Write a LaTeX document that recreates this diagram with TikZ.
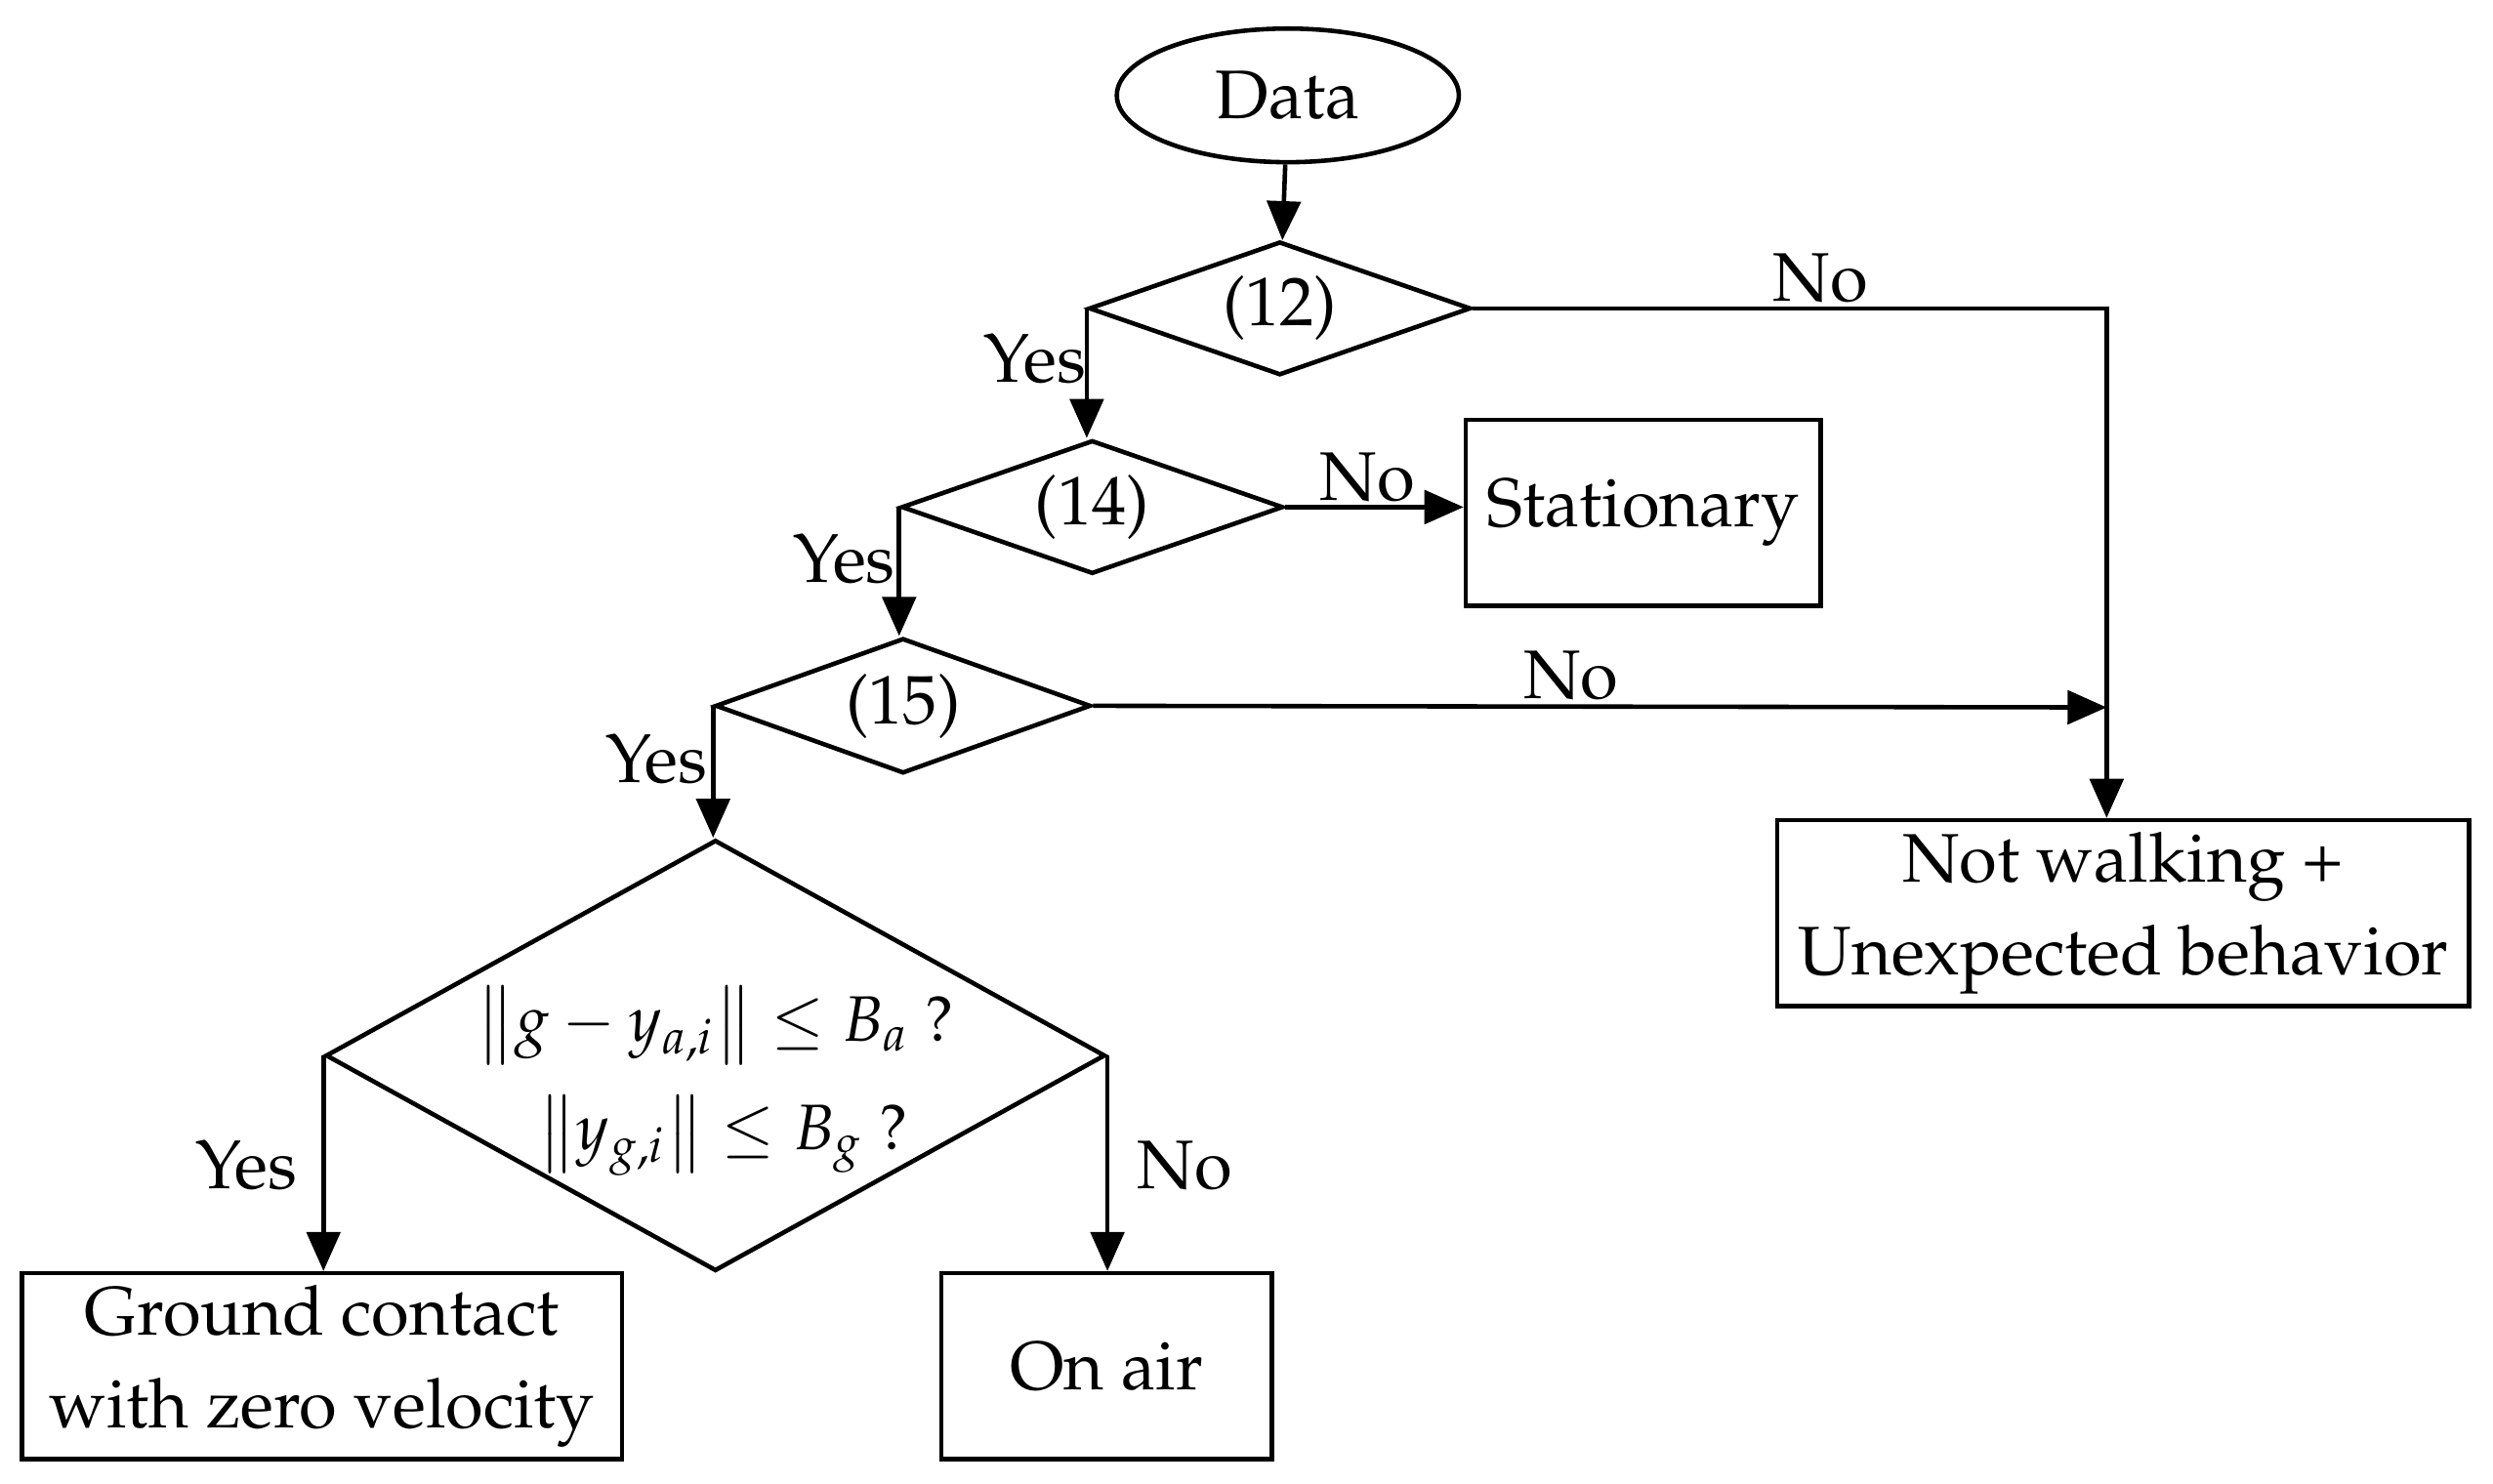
\documentclass[tikz,border=0pt]{standalone}
\usepackage[T1]{fontenc}
\usepackage{mathpazo}
\usetikzlibrary{shapes.geometric,arrows.meta}
\begin{document}
\begin{tikzpicture}[x=0.01cm,y=-0.01cm,line width=0.8pt,
  every node/.style={font=\fontsize{12.3}{16.5}\selectfont},
  dia/.style={draw,diamond,aspect=2.85,inner sep=0pt},
  box/.style={draw,rectangle,align=center,inner sep=0pt},
  lbl/.style={inner sep=1pt},
  arr/.style={-{Triangle[length=7pt,width=6pt]}}]
\useasboundingbox (0,0) rectangle (1568,933);
\node[draw,ellipse,minimum width=2.15cm,minimum height=0.84cm,inner sep=0pt] (data) at (810,60) {Data};
\node[dia,minimum width=2.4cm,minimum height=0.84cm] (d12) at (805,194) {(12)};
\node[dia,minimum width=2.4cm,minimum height=0.84cm] (d14) at (687,319) {(14)};
\node[dia,minimum width=2.36cm,minimum height=0.85cm] (d15) at (568,444) {(15)};
\node[dia,minimum width=4.9cm,minimum height=2.71cm,aspect=1.81] (big) at (450,664) {};
\node[inner sep=0pt,font=\fontsize{11.5}{14}\selectfont] (m1) at (450,645) {$\big\| g-y_{a,i}\big\|\le B_a$ ?};
\node[inner sep=0pt,font=\fontsize{11.5}{14}\selectfont] (m2) at (455,714) {$\big\| y_{g,i}\big\|\le B_g$ ?};
\node[box,minimum width=2.23cm,minimum height=1.17cm] (stat) at (1033.5,322.5) {Stationary};
\node[box,minimum width=4.35cm,minimum height=1.17cm] (nw) at (1335.5,574.5) {Not walking +\\Unexpected behavior};
\node[box,minimum width=3.77cm,minimum height=1.17cm] (gc) at (202.5,859.5) {Ground contact\\with zero velocity};
\node[box,minimum width=2.08cm,minimum height=1.17cm] (air) at (696,859.5) {On air};
\coordinate (c1) at (1325,194);
\coordinate (c2) at (1325,445);
\draw[arr] (data) -- (d12);
\draw[arr] (d12.west) -- (d12.west |- d14.north);
\draw[arr] (d14.west) -- (d14.west |- d15.north);
\draw[arr] (d15.west) -- (d15.west |- big.north);
\draw[arr] (d14.east) -- (stat.west |- d14.east);
\draw[arr] (d12.east) -- (c1) -- (nw.north -| c1);
\draw[arr] (d15.east) -- (c2);
\draw[arr] (big.west) -- (big.west |- gc.north);
\draw[arr] (big.east) -- (big.east |- air.north);
\node[lbl] at (651,226) {Yes};
\node[lbl] at (531,352) {Yes};
\node[lbl] at (413,478) {Yes};
\node[lbl] at (155,733) {Yes};
\node[lbl] at (1145,175) {No};
\node[lbl] at (860,300) {No};
\node[lbl] at (988,425) {No};
\node[lbl] at (745,733) {No};
\end{tikzpicture}
\end{document}
